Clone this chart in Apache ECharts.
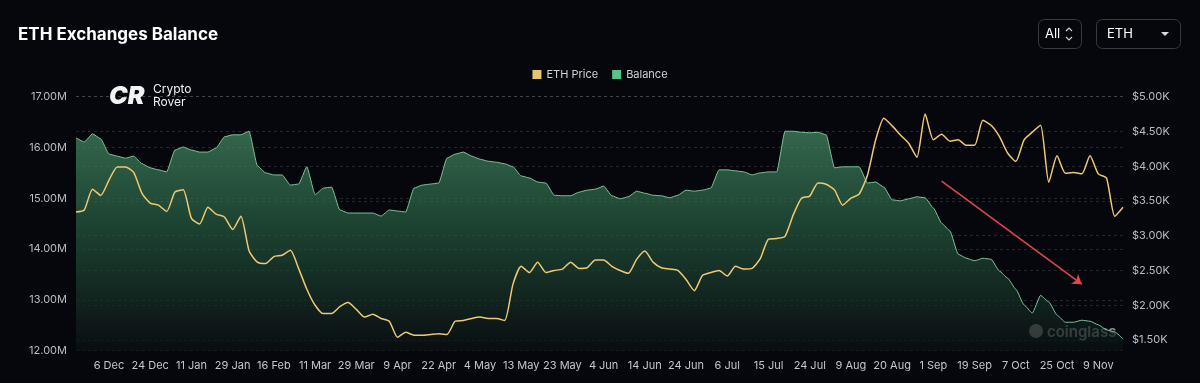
<!DOCTYPE html>
<html>
<head>
<meta charset="utf-8">
<script src="https://cdn.jsdelivr.net/npm/echarts@6/dist/echarts.min.js"></script>
<style>
  html, body { margin: 0; padding: 0; background: #06070d; }
  #chart { width: 1200px; height: 383px; }
</style>
</head>
<body>
<div id="chart"></div>
<script>
// ---- data ----
const tickDates = ['2024-12-06','2024-12-24','2025-01-11','2025-01-29','2025-02-16','2025-03-11','2025-03-29','2025-04-09','2025-04-22','2025-05-04','2025-05-13','2025-05-23','2025-06-04','2025-06-14','2025-06-24','2025-07-06','2025-07-15','2025-07-24','2025-08-09','2025-08-20','2025-09-01','2025-09-19','2025-10-07','2025-10-25','2025-11-09'];
const tickLabels = ['6 Dec','24 Dec','11 Jan','29 Jan','16 Feb','11 Mar','29 Mar','9 Apr','22 Apr','4 May','13 May','23 May','4 Jun','14 Jun','24 Jun','6 Jul','15 Jul','24 Jul','9 Aug','20 Aug','1 Sep','19 Sep','7 Oct','25 Oct','9 Nov'];

// ETH held on exchanges, millions
const balance = [
  16.19,16.11,16.27,16.17,15.87,15.83,15.79,15.83,15.68,15.60,
  15.56,15.52,15.95,16.01,15.95,15.91,15.91,15.99,16.21,16.25,
  16.25,16.32,15.64,15.50,15.46,15.46,15.26,15.28,15.62,15.07,
  15.20,15.22,14.77,14.71,14.71,14.71,14.71,14.65,14.77,14.75,
  14.73,15.20,15.26,15.28,15.30,15.79,15.87,15.91,15.83,15.77,
  15.73,15.71,15.68,15.62,15.44,15.40,15.32,15.30,15.06,15.05,
  15.05,15.12,15.16,15.18,15.24,15.05,14.99,15.03,15.14,15.10,
  15.06,15.05,15.01,15.06,15.16,15.14,15.16,15.20,15.56,15.56,
  15.54,15.52,15.46,15.50,15.52,15.52,16.32,16.32,16.30,16.29,
  16.30,16.25,15.60,15.62,15.62,15.62,15.30,15.32,15.22,14.97,
  14.95,14.99,15.03,15.01,14.81,14.51,14.36,13.90,13.82,13.77,
  13.82,13.80,13.57,13.43,13.21,12.90,12.74,13.09,12.96,12.70,
  12.56,12.56,12.60,12.58,12.51,12.41,12.37,12.23
];

// ETH price, USD
const ethPrice = [
  3340,3370,3670,3580,3800,3990,3990,3910,3610,3470,
  3440,3350,3630,3660,3250,3170,3410,3310,3270,3090,
  3280,2780,2620,2600,2700,2720,2790,2530,2230,2000,
  1880,1880,1980,2040,1940,1830,1870,1810,1770,1540,
  1610,1570,1570,1580,1590,1580,1770,1780,1810,1830,
  1810,1810,1780,2300,2560,2470,2620,2470,2500,2520,
  2620,2530,2540,2650,2650,2560,2500,2460,2660,2780,
  2620,2540,2520,2500,2370,2210,2430,2470,2500,2420,
  2560,2520,2530,2670,2950,2960,2990,3300,3540,3570,
  3760,3740,3660,3440,3540,3600,3870,4380,4690,4580,
  4450,4330,4130,4750,4380,4460,4360,4380,4300,4300,
  4660,4590,4430,4190,4070,4380,4490,4590,3770,4150,
  3900,3910,3890,4150,3890,3830,3280,3410
];

const balanceTicks = [12, 13, 14, 15, 16, 17];
const priceTicks = [1500, 2000, 2500, 3000, 3500, 4000, 4500, 5000];

// arrow annotation (index, balance in M)
const arrowFrom = [105, 15.34];
const arrowTo = [122, 13.31];

// ---- categories: dates between ticks ----
const FIRST_TICK = 4, STEP = 5;
const MONTHS = ['Jan','Feb','Mar','Apr','May','Jun','Jul','Aug','Sep','Oct','Nov','Dec'];
const tickTimes = tickDates.map(d => Date.parse(d + 'T00:00:00Z'));
const categories = balance.map((_, i) => {
  let seg = Math.floor((i - FIRST_TICK) / STEP);
  seg = Math.max(0, Math.min(tickTimes.length - 2, seg));
  const f = (i - FIRST_TICK - seg * STEP) / STEP;
  const t = tickTimes[seg] + f * (tickTimes[seg + 1] - tickTimes[seg]);
  const d = new Date(Math.round(t / 86400000) * 86400000);
  return d.getUTCDate() + ' ' + MONTHS[d.getUTCMonth()];
});

const FONT = 'Inter, "Noto Sans", sans-serif';
const chart = echarts.init(document.getElementById('chart'), null, { renderer: 'canvas' });

const splitLine = { show: true, lineStyle: { color: 'rgba(255,255,255,0.13)', type: [3, 3], width: 1 } };

chart.setOption({
  backgroundColor: '#06070d',
  animation: false,
  textStyle: { fontFamily: FONT },
  legend: {
    top: 64, left: 'center',
    itemWidth: 9, itemHeight: 9, itemGap: 14,
    icon: 'rect',
    textStyle: { color: '#d0d2d8', fontSize: 11, fontFamily: FONT },
    data: ['ETH Price', 'Balance']
  },
  grid: [
    { left: 76, right: 77, top: 96.7, bottom: 32.3 },
    { left: 76, right: 77, top: 96.7, bottom: 43 }
  ],
  xAxis: [
    {
      type: 'category', gridIndex: 0, data: categories, boundaryGap: false,
      axisLine: { show: false }, axisTick: { show: false },
      axisLabel: {
        color: '#c4c6cc', fontSize: 11, margin: 9, fontFamily: FONT,
        interval: (idx) => (idx - FIRST_TICK) % STEP === 0 && idx >= FIRST_TICK,
        formatter: (v, idx) => {
          const k = (idx - FIRST_TICK) / STEP;
          return tickLabels[k] !== undefined ? tickLabels[k] : v;
        }
      },
      splitLine: { show: false }
    },
    {
      type: 'category', gridIndex: 1, data: categories, boundaryGap: false, show: false
    }
  ],
  yAxis: [
    {
      type: 'value', gridIndex: 0, position: 'left',
      min: balanceTicks[0], max: balanceTicks[balanceTicks.length - 1], interval: 1,
      axisLine: { show: false }, axisTick: { show: false },
      axisLabel: { color: '#b8bbc3', fontSize: 11, margin: 9, fontFamily: FONT, formatter: v => v.toFixed(2) + 'M' },
      splitLine: splitLine
    },
    {
      type: 'value', gridIndex: 1, position: 'right',
      min: priceTicks[0], max: priceTicks[priceTicks.length - 1], interval: 500,
      axisLine: { show: false }, axisTick: { show: false },
      axisLabel: { color: '#b8bbc3', fontSize: 11, margin: 9, fontFamily: FONT, formatter: v => '$' + (v / 1000).toFixed(2) + 'K' },
      splitLine: splitLine
    }
  ],
  series: [
    {
      name: 'Balance', type: 'line', xAxisIndex: 0, yAxisIndex: 0,
      data: balance, showSymbol: false, smooth: 0.15, smoothMonotone: 'x',
      itemStyle: { color: '#52c48c' },
      lineStyle: { color: '#79c498', width: 1 },
      areaStyle: {
        color: new echarts.graphic.LinearGradient(0, 0, 0, 1, [
          { offset: 0, color: 'rgba(72,146,104,0.98)' },
          { offset: 0.45, color: 'rgba(38,94,66,0.95)' },
          { offset: 1, color: 'rgba(10,16,18,1)' }
        ])
      },
      z: 2,
      markLine: {
        silent: true, symbol: ['none', 'arrow'], symbolSize: 9,
        label: { show: false },
        lineStyle: { color: '#e0474f', width: 1.5, type: 'solid' },
        data: [[{ coord: arrowFrom }, { coord: arrowTo }]]
      }
    },
    {
      name: 'ETH Price', type: 'line', xAxisIndex: 1, yAxisIndex: 1,
      data: ethPrice, showSymbol: false, smooth: 0.2,
      itemStyle: { color: '#e8c46c' },
      lineStyle: { color: '#efc872', width: 1.5 },
      z: 4
    }
  ],
  graphic: [
    { type: 'text', left: 18, top: 26, style: { text: 'ETH Exchanges Balance', fill: '#ffffff', font: 'bold 17px ' + FONT } },
    // range selector
    { type: 'rect', shape: { x: 1038.5, y: 19.5, width: 43, height: 29, r: 6 }, style: { fill: 'none', stroke: '#363a45', lineWidth: 1 } },
    { type: 'text', x: 1045, y: 34, style: { text: 'All', fill: '#ffffff', font: '13px ' + FONT, verticalAlign: 'middle' } },
    { type: 'polyline', shape: { points: [[1066, 31], [1069, 28], [1072, 31]] }, style: { stroke: '#cfd1d6', lineWidth: 1.2, fill: 'none' } },
    { type: 'polyline', shape: { points: [[1066, 37], [1069, 40], [1072, 37]] }, style: { stroke: '#cfd1d6', lineWidth: 1.2, fill: 'none' } },
    // coin selector
    { type: 'rect', shape: { x: 1096.5, y: 19.5, width: 84, height: 29, r: 6 }, style: { fill: 'none', stroke: '#363a45', lineWidth: 1 } },
    { type: 'text', x: 1107, y: 34, style: { text: 'ETH', fill: '#ffffff', font: '13px ' + FONT, verticalAlign: 'middle' } },
    { type: 'polygon', shape: { points: [[1161, 32], [1169, 32], [1165, 36]] }, style: { fill: '#d8dadf' } },
    // Crypto Rover logo
    { type: 'text', x: 109, y: 96, style: { text: 'CR', fill: '#f2f2f2', font: '900 italic 25px ' + FONT, verticalAlign: 'middle' } },
    { type: 'text', x: 153, y: 89, style: { text: 'Crypto', fill: '#f0f0f0', font: '12px ' + FONT, verticalAlign: 'middle' } },
    { type: 'text', x: 153, y: 102, style: { text: 'Rover', fill: '#f0f0f0', font: '12px ' + FONT, verticalAlign: 'middle' } },
    // coinglass watermark
    { type: 'circle', shape: { cx: 1036, cy: 331, r: 7 }, style: { fill: 'rgba(255,255,255,0.5)' } },
    { type: 'text', x: 1047, y: 332, style: { text: 'coinglass', fill: 'rgba(255,255,255,0.55)', font: '600 15px ' + FONT, verticalAlign: 'middle' } }
  ]
});
</script>
</body>
</html>
